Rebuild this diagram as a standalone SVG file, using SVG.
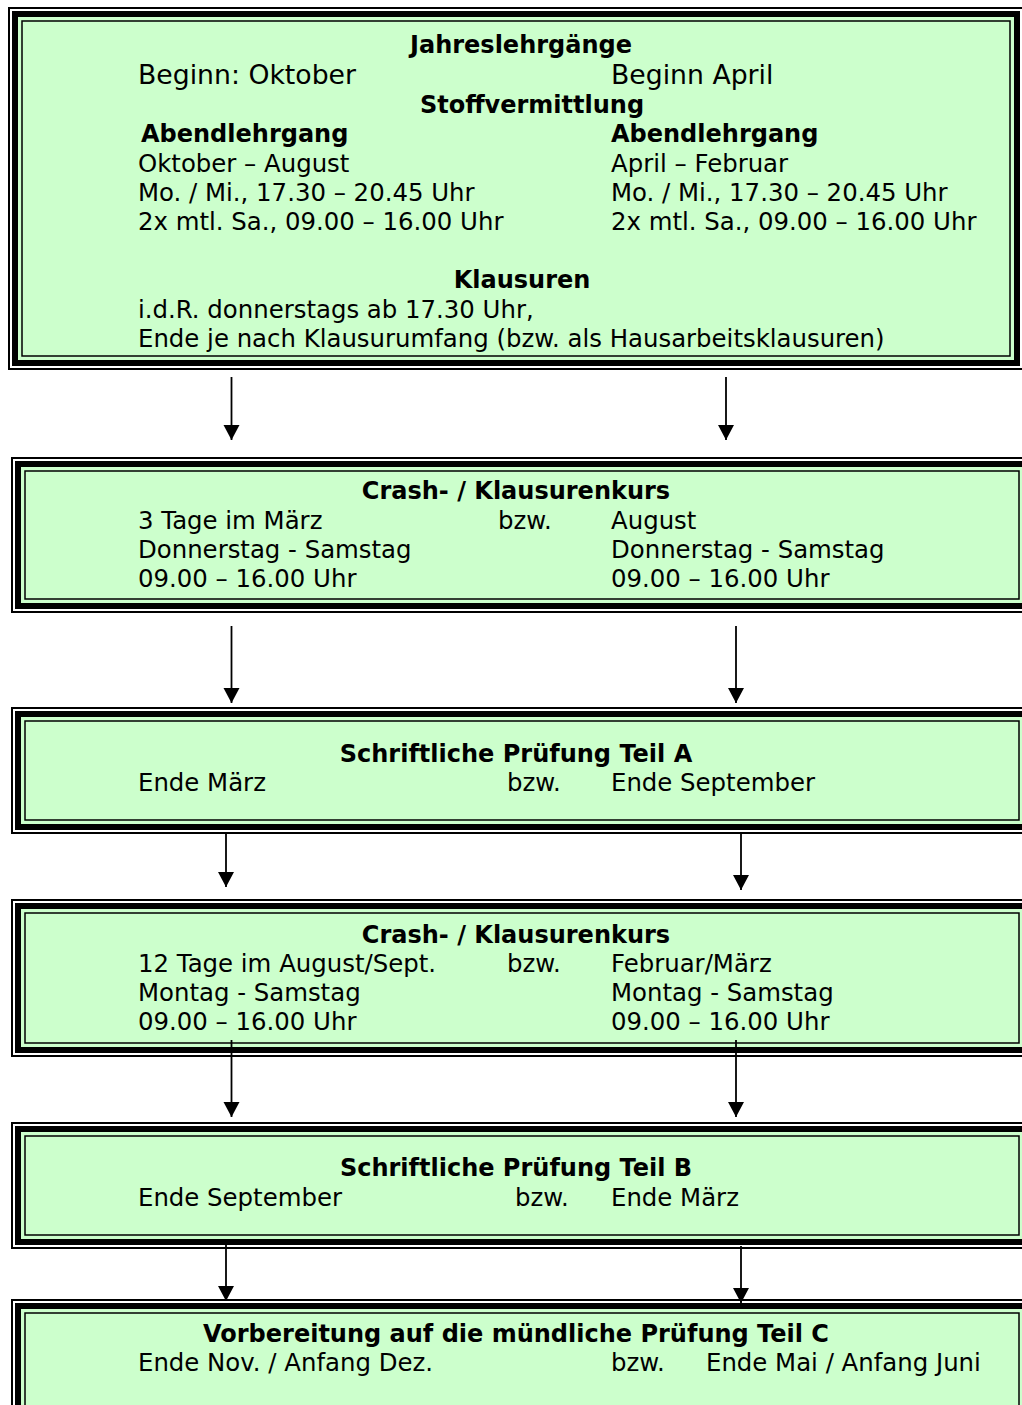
<svg xmlns="http://www.w3.org/2000/svg" width="1022" height="1405" viewBox="0 0 1022 1405">
<style>
.o{fill:#fff;stroke:#000;stroke-width:2}
.k{fill:#ccffcc;stroke:#000;stroke-width:6}
.i{fill:none;stroke:#000;stroke-width:1.5}
text{font-family:"DejaVu Sans",Verdana,sans-serif;fill:#000}
.t{font-size:24.4px}
.h{font-size:24px;font-weight:bold;text-anchor:middle}
.hl{font-size:24px;font-weight:bold}
.b{font-size:26.7px}
.c{stroke:#000;stroke-width:1.8;fill:none;marker-end:url(#ah)}
</style>
<defs>
<marker id="ah" markerUnits="userSpaceOnUse" markerWidth="17" markerHeight="17" refX="15" refY="8" orient="auto">
<path d="M0,0 L15,8 L0,16 z" fill="#000"/>
</marker>
</defs>

<g id="box1">
<rect class="o" x="9" y="8" width="1014" height="361"/>
<rect class="k" x="15" y="14" width="1002" height="349"/>
<rect class="i" x="22" y="21" width="988" height="335"/>
<text class="h" x="521" y="53">Jahreslehrgänge</text>
<text class="b" x="138" y="84">Beginn: Oktober</text>
<text class="b" x="611" y="84">Beginn April</text>
<text class="h" x="532" y="113">Stoffvermittlung</text>
<text class="hl" x="141" y="142">Abendlehrgang</text>
<text class="hl" x="611" y="142">Abendlehrgang</text>
<text class="t" x="138" y="172">Oktober – August</text>
<text class="t" x="611" y="172">April – Februar</text>
<text class="t" x="138" y="201">Mo. / Mi., 17.30 – 20.45 Uhr</text>
<text class="t" x="611" y="201">Mo. / Mi., 17.30 – 20.45 Uhr</text>
<text class="t" x="138" y="230">2x mtl. Sa., 09.00 – 16.00 Uhr</text>
<text class="t" x="611" y="230">2x mtl. Sa., 09.00 – 16.00 Uhr</text>
<text class="h" x="522" y="288">Klausuren</text>
<text class="t" x="138" y="318">i.d.R. donnerstags ab 17.30 Uhr,</text>
<text class="t" x="138" y="347">Ende je nach Klausurumfang (bzw. als Hausarbeitsklausuren)</text>
</g>

<g id="box2">
<rect class="o" x="12" y="458" width="1020" height="154"/>
<rect class="k" x="18" y="464" width="1008" height="142"/>
<rect class="i" x="25" y="471" width="994" height="128"/>
<text class="h" x="516" y="499">Crash- / Klausurenkurs</text>
<text class="t" x="138" y="529">3 Tage im März</text>
<text class="t" x="498" y="529">bzw.</text>
<text class="t" x="611" y="529">August</text>
<text class="t" x="138" y="558">Donnerstag - Samstag</text>
<text class="t" x="611" y="558">Donnerstag - Samstag</text>
<text class="t" x="138" y="587">09.00 – 16.00 Uhr</text>
<text class="t" x="611" y="587">09.00 – 16.00 Uhr</text>
</g>

<g id="box3">
<rect class="o" x="12" y="708" width="1020" height="125"/>
<rect class="k" x="18" y="714" width="1008" height="113"/>
<rect class="i" x="25" y="721" width="994" height="99"/>
<text class="h" x="516" y="762">Schriftliche Prüfung Teil A</text>
<text class="t" x="138" y="791">Ende März</text>
<text class="t" x="507" y="791">bzw.</text>
<text class="t" x="611" y="791">Ende September</text>
</g>

<g id="box4">
<rect class="o" x="12" y="900" width="1020" height="156"/>
<rect class="k" x="18" y="906" width="1008" height="144"/>
<rect class="i" x="25" y="913" width="994" height="130"/>
<text class="h" x="516" y="943">Crash- / Klausurenkurs</text>
<text class="t" x="138" y="972">12 Tage im August/Sept.</text>
<text class="t" x="507" y="972">bzw.</text>
<text class="t" x="611" y="972">Februar/März</text>
<text class="t" x="138" y="1001">Montag - Samstag</text>
<text class="t" x="611" y="1001">Montag - Samstag</text>
<text class="t" x="138" y="1030">09.00 – 16.00 Uhr</text>
<text class="t" x="611" y="1030">09.00 – 16.00 Uhr</text>
</g>

<g id="box5">
<rect class="o" x="12" y="1123" width="1020" height="125"/>
<rect class="k" x="18" y="1129" width="1008" height="113"/>
<rect class="i" x="25" y="1136" width="994" height="99"/>
<text class="h" x="516" y="1176">Schriftliche Prüfung Teil B</text>
<text class="t" x="138" y="1206">Ende September</text>
<text class="t" x="515" y="1206">bzw.</text>
<text class="t" x="611" y="1206">Ende März</text>
</g>

<g id="box6">
<rect class="o" x="12" y="1300" width="1020" height="129"/>
<rect class="k" x="18" y="1306" width="1008" height="117"/>
<rect class="i" x="25" y="1313" width="994" height="103"/>
<text class="h" x="516" y="1342">Vorbereitung auf die mündliche Prüfung Teil C</text>
<text class="t" x="138" y="1371">Ende Nov. / Anfang Dez.</text>
<text class="t" x="611" y="1371">bzw.</text>
<text class="t" x="706" y="1371">Ende Mai / Anfang Juni</text>
</g>

<g id="connectors">
<line class="c" x1="231.5" y1="377" x2="231.5" y2="440"/>
<line class="c" x1="726" y1="377" x2="726" y2="440"/>
<line class="c" x1="231.5" y1="626" x2="231.5" y2="703"/>
<line class="c" x1="736" y1="626" x2="736" y2="703"/>
<line class="c" x1="226" y1="834" x2="226" y2="887"/>
<line class="c" x1="741" y1="834" x2="741" y2="890"/>
<line class="c" x1="231.5" y1="1040" x2="231.5" y2="1117"/>
<line class="c" x1="736" y1="1040" x2="736" y2="1117"/>
<line class="c" x1="226" y1="1244" x2="226" y2="1301"/>
<line class="c" x1="741" y1="1246" x2="741" y2="1303"/>
</g>
</svg>
